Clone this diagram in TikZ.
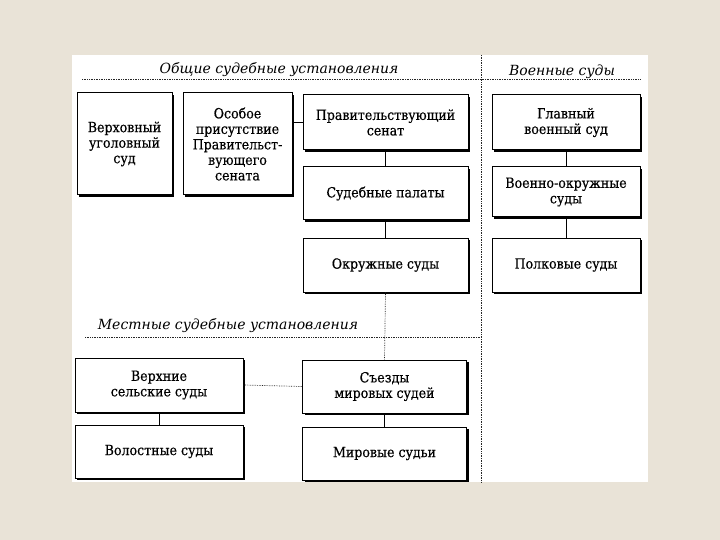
\documentclass[tikz,border=0pt]{standalone}
\usepackage{fontspec}
\setmainfont{DejaVu Serif}
\newfontfamily\boxfont[FakeBold=0.4]{DejaVu Serif Condensed}
\usetikzlibrary{shadows}

\definecolor{paper}{RGB}{233,227,215}

\tikzset{
  court/.style={draw, line width=1pt, fill=white, align=center,
    font=\boxfont\fontsize{14}{15.5}\selectfont, inner sep=2pt,
    drop shadow={shadow xshift=2.2pt, shadow yshift=-2.2pt, fill=black, opacity=1}},
  link/.style={line width=1pt},
  sep/.style={densely dotted, line width=0.7pt, black!85},
  head/.style={font=\fontsize{14}{16}\selectfont\itshape}
}

\begin{document}
\begin{tikzpicture}[x=1pt, y=-1pt]
    % Page and white sheet
    \fill[paper] (0,0) rectangle (720,540);
    \useasboundingbox (0,0) rectangle (720,540);
    \fill[white] (72,55) rectangle (648,482);

    % Section frames
    \coordinate (topL) at (82,79);
    \coordinate (topR) at (640,79);
    \coordinate (midL) at (85,337);
    \coordinate (midR) at (481,337);
    \coordinate (vTop) at (481,55);
    \coordinate (vBot) at (481,482);
    \draw[sep] (topL) -- (topR);
    \draw[sep] (midL) -- (midR);
    \draw[sep] (vTop) -- (vBot);

    % Section titles
    \node[head] (general) at (279,70) {Общие судебные установления};
    \node[head] (military) at (562,72) {Военные суды};
    \node[head] (local) at (228,326) {Местные судебные установления};

    % General courts
    \node[court, minimum width=95pt, minimum height=102pt] (verkh) at (124.5,144)
        {Верховный\\уголовный\\суд};
    \node[court, minimum width=109pt, minimum height=102pt] (osob) at (237.5,144)
        {Особое\\присутствие\\Правительст-\\вующего\\сената};
    \node[court, minimum width=165pt, minimum height=55pt] (senat) at (385.5,122.5)
        {Правительствующий\\сенат};
    \node[court, minimum width=165pt, minimum height=53pt] (palaty) at (385.5,193.5)
        {Судебные палаты};
    \node[court, minimum width=165pt, minimum height=54pt] (okr) at (385.5,265)
        {Окружные суды};

    % Military courts
    \node[court, minimum width=148pt, minimum height=55pt] (glavn) at (566,122.5)
        {Главный\\военный суд};
    \node[court, minimum width=148pt, minimum height=50pt] (voenokr) at (566,192)
        {Военно-окружные\\суды};
    \node[court, minimum width=148pt, minimum height=54pt] (polk) at (566,265)
        {Полковые суды};

    % Local courts
    \node[court, minimum width=168pt, minimum height=54pt] (selsk) at (159,385)
        {Верхние\\сельские суды};
    \node[court, minimum width=168pt, minimum height=53pt] (volost) at (159,451.5)
        {Волостные суды};
    \node[court, minimum width=164pt, minimum height=53pt] (sezdy) at (384.5,386.5)
        {Съезды\\мировых судей};
    \node[court, minimum width=164pt, minimum height=53pt] (mirov) at (384.5,453.5)
        {Мировые судьи};

    % Links
    \draw[link] (senat.west) -- (senat.west -| osob.east);
    \draw[link] (senat) -- (palaty);
    \draw[link] (palaty) -- (okr);
    \draw[link] (glavn) -- (voenokr);
    \draw[link] (voenokr) -- (polk);
    \draw[link] (selsk) -- (volost);
    \draw[link] (sezdy) -- (mirov);
    \draw[sep] (okr.south) -- (sezdy.north);
    \draw[sep] (selsk.east) -- (sezdy.west);
\end{tikzpicture}
\end{document}
